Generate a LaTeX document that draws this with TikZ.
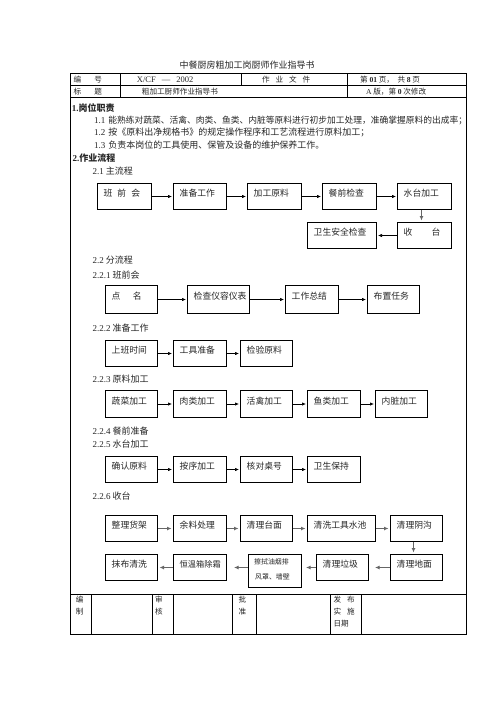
\documentclass[tikz,border=0pt]{standalone}
\usepackage{fontspec}
\setmainfont{Noto Sans CJK SC}
\newfontfamily\lat{Liberation Serif}
\usetikzlibrary{arrows.meta,calc}
\tikzset{
  txt/.style={inner sep=0pt, anchor=west, text=black!85},
  body/.style={txt, font=\fontsize{9pt}{11pt}\selectfont},
  bhead/.style={txt, font=\fontsize{9pt}{11pt}\selectfont\bfseries},
  hdr/.style={txt, font=\fontsize{7.6pt}{9pt}\selectfont},
  ttl/.style={txt, font=\fontsize{9pt}{11pt}\selectfont},
  lbl/.style={txt, font=\fontsize{8.8pt}{10pt}\selectfont},
  flowrect/.style={draw=black, line width=1pt, inner sep=0pt, anchor=north west},
  arr/.style={draw=black, line width=0.7pt, -{Latex[length=4pt,width=3.4pt]}, shorten >=1pt},
  garr/.style={draw=black!60, line width=1.5pt, -{Latex[length=4.5pt,width=4pt]}, shorten >=1.5pt},
  tblline/.style={draw=black, line width=1pt},
}
\newcommand\flowbox[6]{%
  \node[flowrect, minimum width={(#4)-(#2)}, minimum height={(#5)-(#3)}] (#1) at (#2,#3) {};
  \node[lbl] (#1-t) at ($(#1.north west)+(6.5,{0.4*((#5)-(#3))})$) {#6};
}
\begin{document}
\begin{tikzpicture}[x=1pt,y=-1pt]
\fill[white] (0,0) rectangle (496,702);
\useasboundingbox (0,0) rectangle (496,702);

% title
\node[ttl] (title) at (179.3,65) {中餐厨房粗加工岗厨师作业指导书};

% table frame
\draw[tblline] (70,73.5) rectangle (466.5,634);
\draw[tblline] (70,85.7) -- (466.5,85.7);
\draw[tblline] (70,97.7) -- (466.5,97.7);
\draw[tblline] (70,594) -- (466.5,594);
\draw[tblline] (120.7,73.5) -- (120.7,97.7);
\draw[tblline] (241,73.5) -- (241,85.7);
\draw[tblline] (347,73.5) -- (347,97.7);
\foreach \cx in {91,152,173,232,256,330,361}{\draw[tblline] (\cx,594) -- (\cx,634);}

% header texts
\node[hdr] (h1) at (73.3,79.5) {编\hspace{13.4pt}号};
\node[hdr] (h2) at (136.7,79.5) {\makebox[56.5pt][s]{\lat\fontsize{8.5pt}{9pt}\selectfont X/CF — 2002}};
\node[hdr] (h3) at (262,79.5) {\makebox[48pt][s]{作 业 文 件}};
\node[hdr] (h4a) at (360,79.5) {第 {\lat\bfseries 01} 页，};
\node[hdr] (h4b) at (397.3,79.5) {共 {\lat\bfseries 8} 页};
\node[hdr] (h5) at (73.3,92) {标\hspace{13.4pt}题};
\node[hdr] (h6) at (141.7,92) {粗加工厨师作业指导书};
\node[hdr] (h7) at (366,92) {{\lat A} 版，第 {\lat\bfseries 0} 次修改};

% section 1
\node[bhead] (s1) at (71.7,107.7) {{\lat\bfseries 1.}岗位职责};
\node[body] (l11) at (94,120) {{\lat 1.1}\hspace{3pt}{\fontsize{8.75pt}{11pt}\selectfont 能熟练对蔬菜、活禽、肉类、鱼类、内脏等原料进行初步加工处理，准确掌握原料的出成率；}};
\node[body] (l12) at (94,132.3) {{\lat 1.2}\hspace{3pt}按《原料出净规格书》的规定操作程序和工艺流程进行原料加工；};
\node[body] (l13) at (94,145) {{\lat 1.3}\hspace{3pt}负责本岗位的工具使用、保管及设备的维护保养工作。};
\node[bhead] (s2) at (72.3,157.7) {{\lat\bfseries 2.}作业流程};

% section headings
\node[body] (s21) at (92.5,171) {{\lat 2.1} 主流程};
\node[body] (s22) at (92.5,260) {{\lat 2.2} 分流程};
\node[body] (s221) at (92.5,275) {{\lat 2.2.1} 班前会};
\node[body] (s222) at (92.5,327.7) {{\lat 2.2.2} 准备工作};
\node[body] (s223) at (92.5,379) {{\lat 2.2.3} 原料加工};
\node[body] (s224) at (92.5,430.7) {{\lat 2.2.4} 餐前准备};
\node[body] (s225) at (92.5,444) {{\lat 2.2.5} 水台加工};
\node[body] (s226) at (92.5,495.7) {{\lat 2.2.6} 收台};

% 2.1 main flow
\flowbox{ban}{97}{183}{151}{209}{班\hspace{5pt}前\hspace{5pt}会}
\flowbox{zb}{173}{183}{226}{209}{准备工作}
\flowbox{jg}{247}{183}{301}{209}{加工原料}
\flowbox{cq}{322}{183}{376}{209}{餐前检查}
\flowbox{st}{397}{183}{451}{209}{水台加工}
\flowbox{ws}{307}{222}{376}{248}{卫生安全检查}
\flowbox{sh}{397}{222}{451}{248}{收\hspace{19pt}台}
\draw[arr] (ban) -- (zb);
\draw[arr] (zb) -- (jg);
\draw[arr] (jg) -- (cq);
\draw[arr] (cq) -- (st);
\draw[garr] ([xshift=-3pt]st.south) -- ([xshift=-3pt]sh.north);
\draw[arr] (sh) -- (ws);

% 2.2.1
\flowbox{dm1}{105}{285}{157}{313}{点\hspace{12.5pt}名}
\flowbox{jc}{187}{285}{249}{313}{检查仪容仪表}
\flowbox{zj}{285}{285}{338}{313}{工作总结}
\flowbox{bz}{367}{285}{419}{313}{布置任务}
\draw[arr] (dm1) -- (jc);
\draw[arr] (jc) -- (zj);
\draw[arr] (zj) -- (bz);

% 2.2.2
\flowbox{sb}{105}{340}{157}{366}{上班时间}
\flowbox{gj}{173}{340}{226}{366}{工具准备}
\flowbox{jy}{240}{340}{292}{366}{检验原料}
\draw[arr] (sb) -- (gj);
\draw[arr] (gj) -- (jy);

% 2.2.3
\flowbox{sc}{105}{390}{157}{417}{蔬菜加工}
\flowbox{rl}{173}{390}{226}{417}{肉类加工}
\flowbox{hq}{240}{390}{292}{417}{活禽加工}
\flowbox{yl}{307}{390}{360}{417}{鱼类加工}
\flowbox{nz}{375}{390}{427}{417}{内脏加工}
\draw[arr] (sc) -- (rl);
\draw[arr] (rl) -- (hq);
\draw[arr] (hq) -- (yl);
\draw[arr] (yl) -- (nz);

% 2.2.5
\flowbox{qr}{105}{456}{157}{482}{确认原料}
\flowbox{ax}{173}{456}{226}{482}{按序加工}
\flowbox{hd}{240}{456}{292}{482}{核对桌号}
\flowbox{wb}{307}{456}{360}{482}{卫生保持}
\draw[arr] (qr) -- (ax);
\draw[arr] (ax) -- (hd);
\draw[arr] (hd) -- (wb);

% 2.2.6
\flowbox{zl}{105}{515}{157}{541}{整理货架}
\flowbox{ylc}{173}{515}{226}{541}{余料处理}
\flowbox{qt}{240}{515}{292}{541}{清理台面}
\flowbox{qx}{307}{515}{375}{541}{清洗工具水池}
\flowbox{qy}{390}{515}{442}{541}{清理阴沟}
\flowbox{mb}{105}{554}{157}{580}{抹布清洗}
\flowbox{hw}{173}{554}{226}{580}{{\fontsize{8.2pt}{9pt}\selectfont 恒温箱除霜}}
\node[flowrect, minimum width=53, minimum height=33] (cs) at (248,554) {};
\node[txt, font=\fontsize{6.9pt}{8pt}\selectfont] (cs-t1) at ($(cs.north west)+(6,8)$) {擦拭油烟排};
\node[txt, font=\fontsize{6.9pt}{8pt}\selectfont] (cs-t2) at ($(cs.north west)+(7,23)$) {风罩、墙壁};
\flowbox{lj}{316}{554}{368}{580}{清理垃圾}
\flowbox{dmq}{390}{554}{442}{580}{清理地面}
\draw[garr] (zl) -- (ylc);
\draw[garr] (ylc) -- (qt);
\draw[garr] (qt) -- (qx);
\draw[garr] (qx) -- (qy);
\draw[garr] ([xshift=-3pt]qy.south) -- ([xshift=-3pt]dmq.north);
\draw[garr, shorten >=6pt] (dmq.west) -- (lj.east);
\draw[garr, shorten >=4pt] (lj.west) -- (cs.east |- lj.west);
\draw[garr, shorten >=7pt] (cs.west |- lj.west) -- (hw.east);
\draw[garr] (hw) -- (mb);

% footer
\node[hdr] (f1a) at (75.7,600) {编};
\node[hdr] (f1b) at (75.7,611.7) {制};
\node[hdr] (f2a) at (155,600) {审};
\node[hdr] (f2b) at (155,611.7) {核};
\node[hdr] (f3a) at (238.3,600) {批};
\node[hdr] (f3b) at (238.3,611.7) {准};
\node[hdr] (f4a) at (333.3,600) {发\hspace{6pt}布};
\node[hdr] (f4b) at (333.3,611.7) {实\hspace{6pt}施};
\node[hdr] (f4c) at (333.3,623.3) {日期};
\end{tikzpicture}
\end{document}
